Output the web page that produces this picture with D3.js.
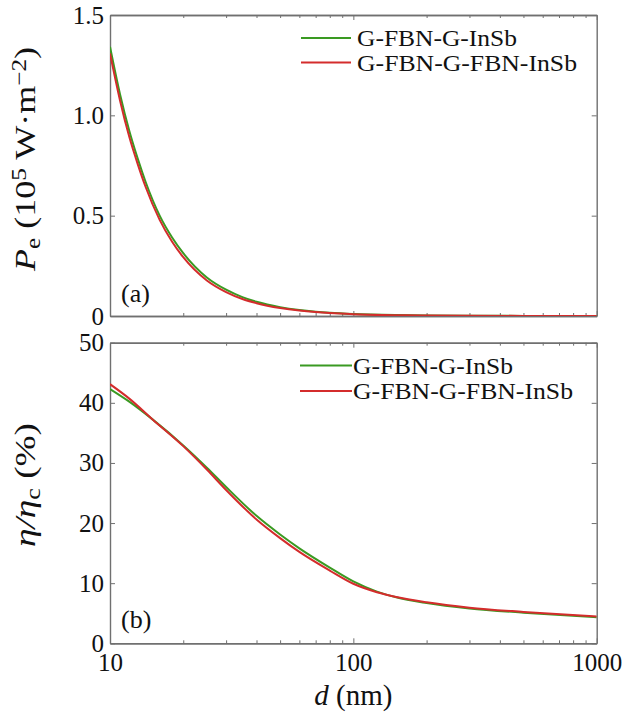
<!DOCTYPE html>
<html><head><meta charset="utf-8">
<script src="https://cdn.jsdelivr.net/npm/d3@7"></script>
<style>
body{margin:0;background:#fff;}
svg text{font-family:'Liberation Serif','Times New Roman',serif !important;fill:#111;}
</style></head>
<body>
<svg id="c" width="625" height="717"></svg>
<script>
// ---------- data ----------
const seriesNames = ["G-FBN-G-InSb", "G-FBN-G-FBN-InSb"];
const dTop = [10,11,12,13,14,16,18,20,25,30,35,40,50,60,70,80,100,150,200,300,500,1000];
const peGreen = [1.342,1.104,0.923,0.784,0.669,0.500,0.391,0.313,0.192,0.131,0.094,0.071,0.0443,0.030,0.0217,0.0163,0.0102,0.0045,0.0025,0.0012,0.0005,0.0001];
const peRed   = [1.309,1.073,0.893,0.757,0.644,0.479,0.370,0.293,0.177,0.119,0.0846,0.0639,0.0399,0.027,0.0195,0.0147,0.0092,0.0041,0.0023,0.0011,0.00045,0.0001];
const dBot = [10,12,15,20,25,30,40,50,60,80,100,125,150,200,300,500,1000];
const etaGreen = [42.3,40.2,37.2,32.9,29.2,26.0,21.2,18.1,15.8,12.6,10.3,8.6,7.65,6.7,5.8,5.1,4.35];
const etaRed   = [43.1,40.7,37.2,32.8,28.9,25.5,20.6,17.5,15.2,12.1,9.9,8.5,7.7,6.82,5.93,5.22,4.45];
const xMajor = [10,100,1000];
const yTopTicks = [0,0.5,1.0,1.5];
const yBotTicks = [0,10,20,30,40,50];
const colors = ["#3a9a22","#d42c2c"];

// ---------- layout ----------
const FONT = "'Liberation Serif','Times New Roman',serif";
const svg = d3.select("#c");
const L = 110, R = 596.7;
const T1 = 15, B1 = 316, T2 = 342.7, B2 = 643.3;
const x = d3.scaleLog().domain([10,1000]).range([L,R]);
const yTop = d3.scaleLinear().domain([0,1.5]).range([B1,T1]);
const yBot = d3.scaleLinear().domain([0,50]).range([B2,T2]);
const minor = [];
[10,100].forEach(b=>{for(let k=2;k<=9;k++) minor.push(b*k);});

const axisColor = "#707070";
function frame(yScale, yTicks, top, bottom, fmt, showX){
  const g = svg.append("g");
  g.append("g").attr("transform",`translate(0,${bottom})`)
    .call(d3.axisBottom(x).tickValues(xMajor).tickSize(-5).tickSizeOuter(0).tickPadding(10)
      .tickFormat(showX? d3.format("d") : ""));
  g.append("g").attr("transform",`translate(0,${bottom})`)
    .call(d3.axisBottom(x).tickValues(minor).tickSize(-3).tickSizeOuter(0).tickFormat(""));
  g.append("g").attr("transform",`translate(0,${top})`)
    .call(d3.axisTop(x).tickValues(xMajor).tickSize(-5).tickSizeOuter(0).tickFormat(""));
  g.append("g").attr("transform",`translate(0,${top})`)
    .call(d3.axisTop(x).tickValues(minor).tickSize(-3).tickSizeOuter(0).tickFormat(""));
  g.append("g").attr("transform",`translate(${L},0)`)
    .call(d3.axisLeft(yScale).tickValues(yTicks).tickSize(-5).tickSizeOuter(0).tickPadding(6).tickFormat(fmt));
  g.append("g").attr("transform",`translate(${R},0)`)
    .call(d3.axisRight(yScale).tickValues(yTicks).tickSize(-5).tickSizeOuter(0).tickFormat(""));
  g.selectAll("g").attr("font-family",FONT);
  g.selectAll("path.domain").attr("stroke",axisColor).attr("stroke-width",1.4);
  g.selectAll(".tick line").attr("stroke",axisColor).attr("stroke-width",1);
  g.selectAll(".tick text").attr("font-size",25).style("font-family",FONT).attr("fill","#111");
  return g;
}
frame(yTop, yTopTicks, T1, B1, d=> d===0? "0" : d3.format(".1f")(d), false);
frame(yBot, yBotTicks, T2, B2, d3.format("d"), true);

svg.append("clipPath").attr("id","c1").append("rect").attr("x",L).attr("y",T1).attr("width",R-L).attr("height",B1-T1);
svg.append("clipPath").attr("id","c2").append("rect").attr("x",L).attr("y",T2).attr("width",R-L).attr("height",B2-T2);

function drawLines(dArr, seriesArr, yScale, clip){
  const line = d3.line().x(p=>x(p[0])).y(p=>yScale(p[1])).curve(d3.curveMonotoneX);
  seriesArr.forEach((vals,i)=>{
    svg.append("path").attr("clip-path",`url(#${clip})`)
      .datum(dArr.map((d,j)=>[d,vals[j]]))
      .attr("fill","none").attr("stroke",colors[i]).attr("stroke-width",2)
      .attr("d",line);
  });
}
drawLines(dTop,[peGreen,peRed],yTop,"c1");
drawLines(dBot,[etaGreen,etaRed],yBot,"c2");

function legend(x0,x1,tx,ys,widths){
  seriesNames.forEach((n,i)=>{
    svg.append("line").attr("x1",x0).attr("x2",x1).attr("y1",ys[i]).attr("y2",ys[i])
      .attr("stroke",colors[i]).attr("stroke-width",2);
    svg.append("text").attr("x",tx).attr("y",ys[i]+8).attr("font-size",23)
      .attr("textLength",widths[i]).attr("lengthAdjust","spacingAndGlyphs").text(n);
  });
}
legend(301,351,357,[38,62.5],[160,220]);
legend(300,352,353,[365.5,391],[160,220]);

svg.append("text").attr("x",121).attr("y",302).attr("font-size",26).text("(a)");
svg.append("text").attr("x",121).attr("y",628).attr("font-size",26).text("(b)");

const yl1 = svg.append("text").attr("transform",`translate(35,159) rotate(-90)`)
  .attr("text-anchor","middle").attr("font-size",30)
  .attr("textLength",224).attr("lengthAdjust","spacingAndGlyphs");
yl1.append("tspan").attr("font-style","italic").text("P");
yl1.append("tspan").attr("font-size",21).attr("baseline-shift","-25%").text("e");
yl1.append("tspan").text(" (10");
yl1.append("tspan").attr("font-size",21).attr("baseline-shift","45%").text("5");
yl1.append("tspan").text(" W\u00B7m");
yl1.append("tspan").attr("font-size",21).attr("baseline-shift","45%").text("\u22122");
yl1.append("tspan").text(")");

const yl2 = svg.append("text").attr("transform",`translate(35,485) rotate(-90)`)
  .attr("text-anchor","middle").attr("font-size",30)
  .attr("textLength",124).attr("lengthAdjust","spacingAndGlyphs");
yl2.append("tspan").attr("font-style","italic").text("\u03B7/\u03B7");
yl2.append("tspan").attr("font-size",21).attr("baseline-shift","-25%").text("c");
yl2.append("tspan").text(" (%)");

const xl = svg.append("text").attr("x",(L+R)/2).attr("y",705).attr("text-anchor","middle").attr("font-size",29);
xl.append("tspan").attr("font-style","italic").text("d");
xl.append("tspan").text(" (nm)");
</script>
</body></html>
